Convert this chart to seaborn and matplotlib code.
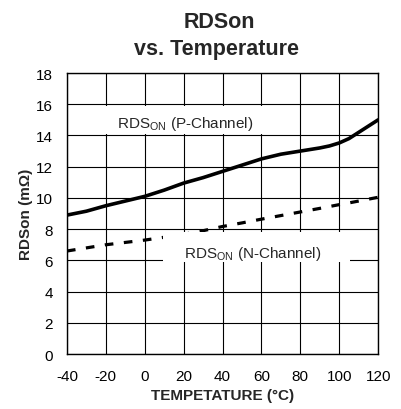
import matplotlib
matplotlib.use("Agg")
import matplotlib.pyplot as plt
from matplotlib.patches import Rectangle
import seaborn as sns
import pandas as pd

temps = [-40, -30, -20, -10, 0, 10, 20, 30, 40, 50, 60, 70, 80, 90, 95, 100, 105, 110, 115, 120]
p_channel = [8.9, 9.15, 9.5, 9.8, 10.1, 10.5, 10.95, 11.3, 11.7, 12.1, 12.5, 12.8, 13.0, 13.2, 13.33, 13.52, 13.8, 14.2, 14.6, 15.0]
n_channel = [6.6, 6.8, 7.0, 7.15, 7.3, 7.48, 7.67, 7.9, 8.17, 8.4, 8.64, 8.87, 9.1, 9.33, 9.45, 9.57, 9.68, 9.8, 9.92, 10.04]
x_ticks = [-40, -20, 0, 20, 40, 60, 80, 100, 120]
y_ticks = [0, 2, 4, 6, 8, 10, 12, 14, 16, 18]

sns.set_style("white")
plt.rcParams['font.family'] = ['Liberation Sans', 'DejaVu Sans']
plt.rcParams['mathtext.fontset'] = 'custom'
plt.rcParams['mathtext.rm'] = 'Liberation Sans'
plt.rcParams['axes.unicode_minus'] = False

df = pd.DataFrame({"temp": temps * 2,
                   "val": p_channel + n_channel,
                   "ch": ["P"] * len(temps) + ["N"] * len(temps)})

fig = plt.figure(figsize=(4.01, 4.10), dpi=100)
ax = fig.add_axes([0.167, 0.134, 0.776, 0.6855])

sns.lineplot(data=df[df.ch == "P"], x="temp", y="val", ax=ax, color="black", lw=2.6, zorder=3)
sns.lineplot(data=df[df.ch == "N"], x="temp", y="val", ax=ax, color="black", lw=2.3,
             linestyle=(0, (2.7, 3.3)), zorder=3)

ax.set_xlim(-40, 120)
ax.set_ylim(0, 18)
ax.set_xticks(x_ticks)
ax.set_yticks(y_ticks)
ax.grid(True, color="black", lw=0.8)
ax.set_axisbelow(True)
for s in ax.spines.values():
    s.set_color("black")
    s.set_linewidth(1.0)
ax.tick_params(axis="y", length=0, labelsize=11, pad=10, colors="black")
ax.tick_params(axis="x", length=0, labelsize=11, pad=11, colors="black")

ax.set_xlabel("TEMPETATURE (°C)", fontsize=11, fontweight="bold", labelpad=3)
ax.set_ylabel("RDSon (m\u03A9)", fontsize=11, fontweight="bold", labelpad=2)

fig.text(0.546, 1 - 22 / 410, "RDSon", fontsize=15.5, fontweight="bold", ha="center", va="center")
fig.text(0.541, 1 - 50 / 410, "vs. Temperature", fontsize=15.5, fontweight="bold", ha="center", va="center")

for (x0, x1, y0, y1) in [(0.090, 0.691, 0.783, 0.883), (0.309, 0.910, 0.327, 0.434)]:
    ax.add_patch(Rectangle((x0, y0), x1 - x0, y1 - y0, transform=ax.transAxes,
                           facecolor="white", edgecolor="none", zorder=4))
ax.text(20.7, 14.8, "RDS$_{\\mathregular{ON}}$ (P-Channel)", fontsize=11, ha="center", va="center", zorder=5)
ax.text(55.7, 6.47, "RDS$_{\\mathregular{ON}}$ (N-Channel)", fontsize=11, ha="center", va="center", zorder=5)

fig.savefig("out.png", dpi=100)
